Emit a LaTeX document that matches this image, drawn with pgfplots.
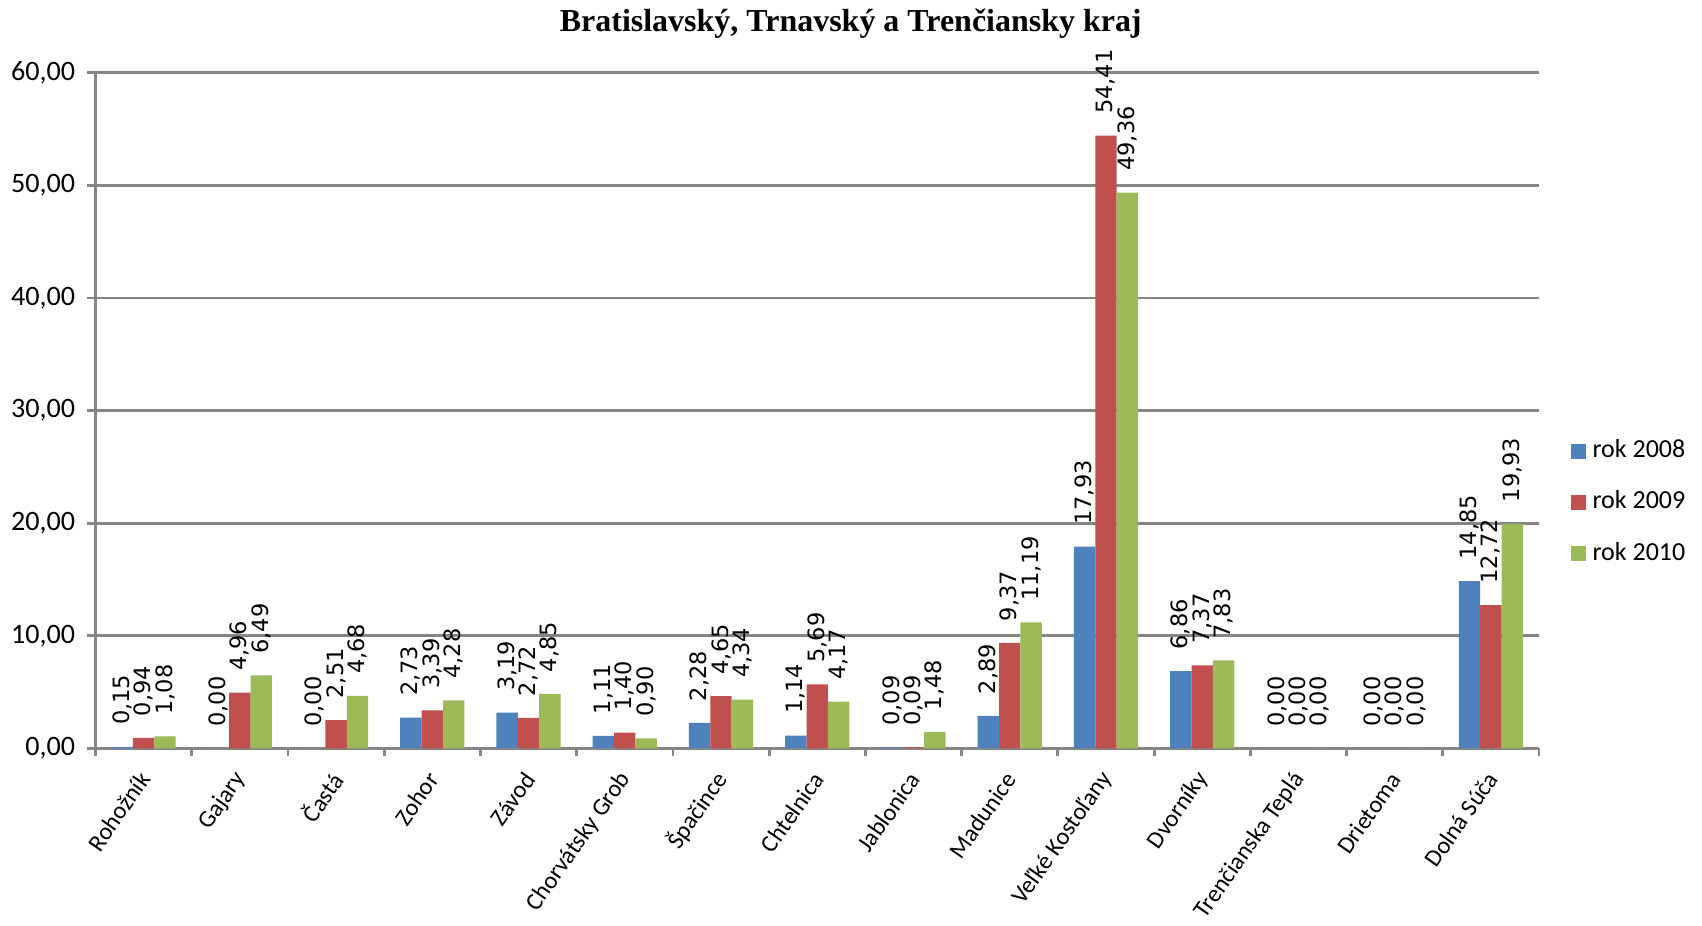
\documentclass[border=0pt]{standalone}
\usepackage{fontspec}
\setmainfont{Carlito}
\newfontfamily\dejavu{DejaVu Sans}
\newfontfamily\titlefont{Liberation Serif}
\usepackage{pgfplots}
\pgfplotsset{compat=1.18}
\definecolor{c08}{RGB}{79,129,189}
\definecolor{c09}{RGB}{192,80,77}
\definecolor{c10}{RGB}{155,187,89}
\definecolor{axgray}{RGB}{134,134,134}

\begin{document}
\begin{tikzpicture}
\begin{axis}[
  scale only axis,
  width=14.44cm, height=6.76cm,
  ymin=0, ymax=60, ytick={0,10,...,60},
  xmin=-0.5, xmax=14.5,
  xtick={0,...,14},
  xticklabels={Rohožník,Gajary,Častá,Zohor,Závod,Chorvátsky Grob,Špačince,Chtelnica,Jablonica,Madunice,Veľké Kostoľany,Dvorníky,Trenčianska Teplá,Drietoma,Dolná Súča},
  minor xtick={-0.5,0.5,...,14.5},
  axis x line*=bottom, axis y line*=left,
  axis line style={axgray, line width=0.8pt},
  tick align=outside,
  major tick length=0.08cm, minor tick length=0.08cm,
  major x tick style={draw=none},
  minor x tick style={axgray, line width=0.8pt},
  major y tick style={axgray, line width=0.8pt},
  ymajorgrids, grid style={axgray, line width=0.8pt},
  ybar=0pt, bar width=0.214cm,
  yticklabel style={font=\fontsize{8}{9}\selectfont,
    /pgf/number format/.cd, fixed, fixed zerofill, precision=2, use comma, assume math mode=true},
  xticklabel style={font=\fontsize{6.9}{8}\selectfont, rotate=55, anchor=east, inner sep=1pt, xshift=0.06cm},
  xticklabel shift=0.2cm,
  nodes near coords={\pgfmathprintnumber[fixed,fixed zerofill,precision=2,use comma,assume math mode=true]{\pgfplotspointmeta}},
  every node near coord/.append style={font=\dejavu\fontsize{6.4}{7}\selectfont, text=black, rotate=90, anchor=west, inner xsep=6pt, inner ysep=0pt},
  legend style={at={(1.014,0.364)}, anchor=west, draw=none, fill=none,
    font=\fontsize{7.4}{9}\selectfont, row sep=4pt, legend cell align=left},
  legend image code/.code={\fill[#1] (0cm,-0.075cm) rectangle (0.15cm,0.075cm);},
]
\addplot[fill=c08, draw=none] coordinates {
  (0,0.15)(1,0.00)(2,0.00)(3,2.73)(4,3.19)(5,1.11)(6,2.28)(7,1.14)
  (8,0.09)(9,2.89)(10,17.93)(11,6.86)(12,0.00)(13,0.00)(14,14.85)};
\addlegendentry{rok 2008}
\addplot[fill=c09, draw=none] coordinates {
  (0,0.94)(1,4.96)(2,2.51)(3,3.39)(4,2.72)(5,1.40)(6,4.65)(7,5.69)
  (8,0.09)(9,9.37)(10,54.41)(11,7.37)(12,0.00)(13,0.00)(14,12.72)};
\addlegendentry{rok 2009}
\addplot[fill=c10, draw=none] coordinates {
  (0,1.08)(1,6.49)(2,4.68)(3,4.28)(4,4.85)(5,0.90)(6,4.34)(7,4.17)
  (8,1.48)(9,11.19)(10,49.36)(11,7.83)(12,0.00)(13,0.00)(14,19.93)};
\addlegendentry{rok 2010}
\end{axis}
\node[font=\titlefont\bfseries\fontsize{9.1}{11}\selectfont] at (7.555cm,7.25cm) {Bratislavský, Trnavský a Trenčiansky kraj};
\pgfresetboundingbox
\path (-0.955cm,-1.77cm) rectangle (16.07cm,7.487cm);
\end{tikzpicture}
\end{document}
